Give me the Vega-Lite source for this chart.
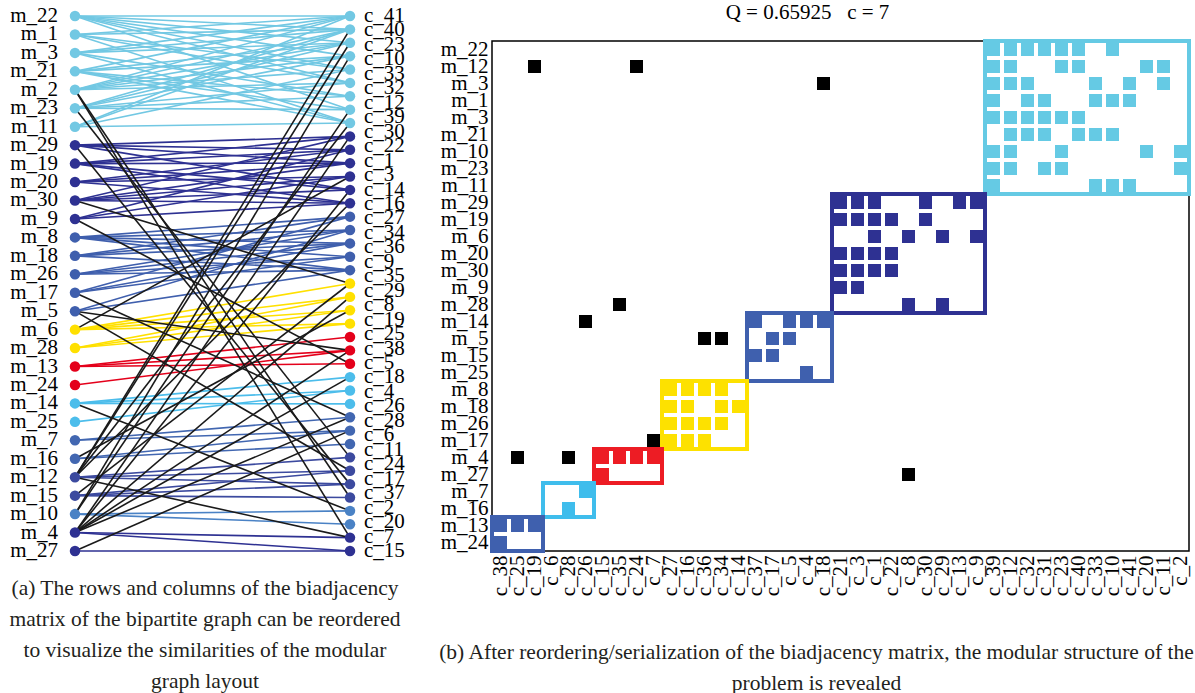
{
"$schema": "https://vega.github.io/schema/vega-lite/v6.json",
"padding": 0,
"background": "white",
"spacing": 27,
"config": {"view": {"stroke": null}, "font": "Liberation Serif"},
"resolve": {"scale": {"color": "independent"}},
"datasets": {
"mnodes": [{"i":0,"name":"m_22","g":"cy"},{"i":1,"name":"m_1","g":"cy"},{"i":2,"name":"m_3","g":"cy"},{"i":3,"name":"m_21","g":"cy"},{"i":4,"name":"m_2","g":"cy"},{"i":5,"name":"m_23","g":"cy"},{"i":6,"name":"m_11","g":"cy"},{"i":7,"name":"m_29","g":"nv"},{"i":8,"name":"m_19","g":"nv"},{"i":9,"name":"m_20","g":"nv"},{"i":10,"name":"m_30","g":"nv"},{"i":11,"name":"m_9","g":"nv"},{"i":12,"name":"m_8","g":"bl"},{"i":13,"name":"m_18","g":"bl"},{"i":14,"name":"m_26","g":"bl"},{"i":15,"name":"m_17","g":"bl"},{"i":16,"name":"m_5","g":"bl"},{"i":17,"name":"m_6","g":"ye"},{"i":18,"name":"m_28","g":"ye"},{"i":19,"name":"m_13","g":"rd"},{"i":20,"name":"m_24","g":"rd"},{"i":21,"name":"m_14","g":"lb"},{"i":22,"name":"m_25","g":"lb"},{"i":23,"name":"m_7","g":"b2"},{"i":24,"name":"m_16","g":"b2"},{"i":25,"name":"m_12","g":"in"},{"i":26,"name":"m_15","g":"in"},{"i":27,"name":"m_10","g":"b3"},{"i":28,"name":"m_4","g":"nv"},{"i":29,"name":"m_27","g":"nv"}],
"cnodes": [{"j":0,"g":"cy"},{"j":1,"g":"cy"},{"j":2,"g":"cy"},{"j":3,"g":"cy"},{"j":4,"g":"cy"},{"j":5,"g":"cy"},{"j":6,"g":"cy"},{"j":7,"g":"cy"},{"j":8,"g":"cy"},{"j":9,"g":"nv"},{"j":10,"g":"nv"},{"j":11,"g":"nv"},{"j":12,"g":"nv"},{"j":13,"g":"nv"},{"j":14,"g":"nv"},{"j":15,"g":"bl"},{"j":16,"g":"bl"},{"j":17,"g":"bl"},{"j":18,"g":"bl"},{"j":19,"g":"bl"},{"j":20,"g":"ye"},{"j":21,"g":"ye"},{"j":22,"g":"ye"},{"j":23,"g":"ye"},{"j":24,"g":"rd"},{"j":25,"g":"rd"},{"j":26,"g":"rd"},{"j":27,"g":"lb"},{"j":28,"g":"lb"},{"j":29,"g":"lb"},{"j":30,"g":"b2"},{"j":31,"g":"b2"},{"j":32,"g":"b2"},{"j":33,"g":"in"},{"j":34,"g":"in"},{"j":35,"g":"in"},{"j":36,"g":"in"},{"j":37,"g":"b3"},{"j":38,"g":"b3"},{"j":39,"g":"nv"},{"j":40,"g":"nv"}],
"clabels": [{"k":0,"name":"c_41"},{"k":1,"name":"c_40"},{"k":2,"name":"c_23"},{"k":3,"name":"c_10"},{"k":4,"name":"c_33"},{"k":5,"name":"c_32"},{"k":6,"name":"c_12"},{"k":7,"name":"c_39"},{"k":8,"name":"c_30"},{"k":9,"name":"c_22"},{"k":10,"name":"c_1"},{"k":11,"name":"c_3"},{"k":12,"name":"c_14"},{"k":13,"name":"c_16"},{"k":14,"name":"c_27"},{"k":15,"name":"c_34"},{"k":16,"name":"c_36"},{"k":17,"name":"c_9"},{"k":18,"name":"c_35"},{"k":19,"name":"c_29"},{"k":20,"name":"c_8"},{"k":21,"name":"c_19"},{"k":22,"name":"c_25"},{"k":23,"name":"c_38"},{"k":24,"name":"c_5"},{"k":25,"name":"c_18"},{"k":26,"name":"c_4"},{"k":27,"name":"c_26"},{"k":28,"name":"c_28"},{"k":29,"name":"c_6"},{"k":30,"name":"c_11"},{"k":31,"name":"c_24"},{"k":32,"name":"c_17"},{"k":33,"name":"c_37"},{"k":34,"name":"c_2"},{"k":35,"name":"c_20"},{"k":36,"name":"c_7"},{"k":37,"name":"c_15"}],
"edges": [
{"i":0,"j":0,"g":"cy"},{"i":0,"j":1,"g":"cy"},{"i":0,"j":2,"g":"cy"},{"i":0,"j":3,"g":"cy"},{"i":0,"j":4,"g":"cy"},{"i":0,"j":5,"g":"cy"},{"i":0,"j":7,"g":"cy"},
{"i":1,"j":0,"g":"cy"},{"i":1,"j":1,"g":"cy"},{"i":1,"j":4,"g":"cy"},{"i":1,"j":5,"g":"cy"},{"i":1,"j":8,"g":"cy"},
{"i":2,"j":0,"g":"cy"},{"i":2,"j":1,"g":"cy"},{"i":2,"j":2,"g":"cy"},{"i":2,"j":6,"g":"cy"},{"i":2,"j":8,"g":"cy"},
{"i":3,"j":0,"g":"cy"},{"i":3,"j":2,"g":"cy"},{"i":3,"j":3,"g":"cy"},{"i":3,"j":6,"g":"cy"},{"i":3,"j":7,"g":"cy"},{"i":3,"j":8,"g":"cy"},
{"i":4,"j":0,"g":"cy"},{"i":4,"j":1,"g":"cy"},{"i":4,"j":2,"g":"cy"},{"i":4,"j":3,"g":"cy"},{"i":4,"j":4,"g":"cy"},{"i":4,"j":5,"g":"cy"},
{"i":5,"j":1,"g":"cy"},{"i":5,"j":2,"g":"cy"},{"i":5,"j":3,"g":"cy"},{"i":5,"j":5,"g":"cy"},{"i":5,"j":6,"g":"cy"},{"i":5,"j":7,"g":"cy"},
{"i":6,"j":0,"g":"cy"},{"i":6,"j":1,"g":"cy"},{"i":6,"j":4,"g":"cy"},{"i":6,"j":8,"g":"cy"},
{"i":7,"j":9,"g":"nv"},{"i":7,"j":10,"g":"nv"},{"i":7,"j":11,"g":"nv"},{"i":7,"j":13,"g":"nv"},
{"i":8,"j":9,"g":"nv"},{"i":8,"j":10,"g":"nv"},{"i":8,"j":11,"g":"nv"},{"i":8,"j":13,"g":"nv"},{"i":8,"j":14,"g":"nv"},
{"i":9,"j":10,"g":"nv"},{"i":9,"j":11,"g":"nv"},{"i":9,"j":12,"g":"nv"},{"i":9,"j":14,"g":"nv"},
{"i":10,"j":9,"g":"nv"},{"i":10,"j":11,"g":"nv"},{"i":10,"j":12,"g":"nv"},{"i":10,"j":13,"g":"nv"},{"i":10,"j":14,"g":"nv"},
{"i":11,"j":10,"g":"nv"},{"i":11,"j":12,"g":"nv"},{"i":11,"j":14,"g":"nv"},
{"i":12,"j":15,"g":"bl"},{"i":12,"j":16,"g":"bl"},{"i":12,"j":17,"g":"bl"},{"i":12,"j":18,"g":"bl"},{"i":12,"j":19,"g":"bl"},
{"i":13,"j":15,"g":"bl"},{"i":13,"j":16,"g":"bl"},{"i":13,"j":17,"g":"bl"},{"i":13,"j":19,"g":"bl"},
{"i":14,"j":16,"g":"bl"},{"i":14,"j":17,"g":"bl"},{"i":14,"j":18,"g":"bl"},{"i":14,"j":19,"g":"bl"},
{"i":15,"j":15,"g":"bl"},{"i":15,"j":17,"g":"bl"},{"i":15,"j":18,"g":"bl"},
{"i":16,"j":16,"g":"bl"},{"i":16,"j":19,"g":"bl"},
{"i":17,"j":20,"g":"ye"},{"i":17,"j":21,"g":"ye"},{"i":17,"j":22,"g":"ye"},{"i":17,"j":23,"g":"ye"},
{"i":18,"j":21,"g":"ye"},{"i":18,"j":22,"g":"ye"},{"i":18,"j":23,"g":"ye"},
{"i":19,"j":24,"g":"rd"},{"i":19,"j":25,"g":"rd"},{"i":19,"j":26,"g":"rd"},
{"i":20,"j":25,"g":"rd"},
{"i":21,"j":27,"g":"lb"},{"i":21,"j":28,"g":"lb"},{"i":21,"j":29,"g":"lb"},
{"i":22,"j":28,"g":"lb"},
{"i":23,"j":30,"g":"b2"},{"i":23,"j":31,"g":"b2"},
{"i":24,"j":31,"g":"b2"},{"i":24,"j":32,"g":"b2"},
{"i":25,"j":33,"g":"in"},{"i":25,"j":34,"g":"in"},{"i":25,"j":35,"g":"in"},
{"i":26,"j":34,"g":"in"},{"i":26,"j":35,"g":"in"},{"i":26,"j":36,"g":"in"},
{"i":27,"j":37,"g":"b3"},{"i":27,"j":38,"g":"b3"},
{"i":28,"j":39,"g":"nv"},{"i":28,"j":40,"g":"nv"},
{"i":29,"j":40,"g":"nv"},
{"i":4,"j":36,"g":"k"},{"i":4,"j":39,"g":"k"},{"i":5,"j":33,"g":"k"},{"i":7,"j":35,"g":"k"},{"i":10,"j":20,"g":"k"},{"i":11,"j":26,"g":"k"},
{"i":15,"j":30,"g":"k"},{"i":16,"j":25,"g":"k"},{"i":16,"j":34,"g":"k"},{"i":17,"j":12,"g":"k"},{"i":21,"j":37,"g":"k"},
{"i":24,"j":22,"g":"k"},{"i":25,"j":1,"g":"k"},{"i":25,"j":2,"g":"k"},{"i":25,"j":8,"g":"k"},{"i":25,"j":14,"g":"k"},{"i":25,"j":39,"g":"k"},
{"i":26,"j":20,"g":"k"},{"i":27,"j":3,"g":"k"},{"i":27,"j":7,"g":"k"},
{"i":28,"j":9,"g":"k"},{"i":28,"j":13,"g":"k"},{"i":28,"j":21,"g":"k"},{"i":28,"j":25,"g":"k"},{"i":28,"j":27,"g":"k"},{"i":28,"j":30,"g":"k"},
{"i":29,"j":31,"g":"k"}
],
"blocks": [{"c0":29,"c1":40,"r0":0,"r1":8,"g":"mc"},{"c0":20,"c1":28,"r0":9,"r1":15,"g":"mn"},{"c0":15,"c1":19,"r0":16,"r1":19,"g":"mb"},{"c0":10,"c1":14,"r0":20,"r1":23,"g":"my"},{"c0":6,"c1":9,"r0":24,"r1":25,"g":"mr"},{"c0":3,"c1":5,"r0":26,"r1":27,"g":"ml"},{"c0":0,"c1":2,"r0":28,"r1":29,"g":"mb"}],
"cells": [
{"r":0,"c":29,"g":"mc"},{"r":0,"c":30,"g":"mc"},{"r":0,"c":31,"g":"mc"},{"r":0,"c":32,"g":"mc"},{"r":0,"c":33,"g":"mc"},{"r":0,"c":34,"g":"mc"},{"r":0,"c":36,"g":"mc"},
{"r":1,"c":29,"g":"mc"},{"r":1,"c":30,"g":"mc"},{"r":1,"c":33,"g":"mc"},{"r":1,"c":34,"g":"mc"},{"r":1,"c":38,"g":"mc"},{"r":1,"c":39,"g":"mc"},
{"r":2,"c":29,"g":"mc"},{"r":2,"c":30,"g":"mc"},{"r":2,"c":31,"g":"mc"},{"r":2,"c":35,"g":"mc"},{"r":2,"c":37,"g":"mc"},{"r":2,"c":39,"g":"mc"},
{"r":3,"c":29,"g":"mc"},{"r":3,"c":31,"g":"mc"},{"r":3,"c":32,"g":"mc"},{"r":3,"c":35,"g":"mc"},{"r":3,"c":36,"g":"mc"},{"r":3,"c":37,"g":"mc"},
{"r":4,"c":29,"g":"mc"},{"r":4,"c":30,"g":"mc"},{"r":4,"c":31,"g":"mc"},{"r":4,"c":32,"g":"mc"},{"r":4,"c":33,"g":"mc"},{"r":4,"c":34,"g":"mc"},
{"r":5,"c":30,"g":"mc"},{"r":5,"c":31,"g":"mc"},{"r":5,"c":32,"g":"mc"},{"r":5,"c":34,"g":"mc"},{"r":5,"c":35,"g":"mc"},{"r":5,"c":36,"g":"mc"},
{"r":6,"c":29,"g":"mc"},{"r":6,"c":30,"g":"mc"},{"r":6,"c":33,"g":"mc"},{"r":6,"c":38,"g":"mc"},{"r":6,"c":40,"g":"mc"},
{"r":7,"c":29,"g":"mc"},{"r":7,"c":30,"g":"mc"},{"r":7,"c":32,"g":"mc"},{"r":7,"c":33,"g":"mc"},{"r":7,"c":40,"g":"mc"},
{"r":8,"c":29,"g":"mc"},{"r":8,"c":35,"g":"mc"},{"r":8,"c":36,"g":"mc"},{"r":8,"c":37,"g":"mc"},
{"r":9,"c":20,"g":"mn"},{"r":9,"c":21,"g":"mn"},{"r":9,"c":22,"g":"mn"},{"r":9,"c":25,"g":"mn"},{"r":9,"c":27,"g":"mn"},{"r":9,"c":28,"g":"mn"},
{"r":10,"c":20,"g":"mn"},{"r":10,"c":21,"g":"mn"},{"r":10,"c":22,"g":"mn"},{"r":10,"c":23,"g":"mn"},{"r":10,"c":25,"g":"mn"},
{"r":11,"c":22,"g":"mn"},{"r":11,"c":24,"g":"mn"},{"r":11,"c":26,"g":"mn"},{"r":11,"c":28,"g":"mn"},
{"r":12,"c":20,"g":"mn"},{"r":12,"c":21,"g":"mn"},{"r":12,"c":22,"g":"mn"},{"r":12,"c":23,"g":"mn"},
{"r":13,"c":20,"g":"mn"},{"r":13,"c":21,"g":"mn"},{"r":13,"c":22,"g":"mn"},{"r":13,"c":23,"g":"mn"},
{"r":14,"c":20,"g":"mn"},{"r":14,"c":21,"g":"mn"},
{"r":15,"c":24,"g":"mn"},{"r":15,"c":26,"g":"mn"},
{"r":16,"c":15,"g":"mb"},{"r":16,"c":17,"g":"mb"},{"r":16,"c":18,"g":"mb"},{"r":16,"c":19,"g":"mb"},
{"r":17,"c":16,"g":"mb"},{"r":17,"c":17,"g":"mb"},
{"r":18,"c":15,"g":"mb"},{"r":18,"c":16,"g":"mb"},
{"r":19,"c":18,"g":"mb"},
{"r":20,"c":10,"g":"my"},{"r":20,"c":11,"g":"my"},{"r":20,"c":12,"g":"my"},{"r":20,"c":13,"g":"my"},
{"r":21,"c":10,"g":"my"},{"r":21,"c":11,"g":"my"},{"r":21,"c":13,"g":"my"},{"r":21,"c":14,"g":"my"},
{"r":22,"c":10,"g":"my"},{"r":22,"c":11,"g":"my"},{"r":22,"c":12,"g":"my"},{"r":22,"c":13,"g":"my"},
{"r":23,"c":10,"g":"my"},{"r":23,"c":11,"g":"my"},{"r":23,"c":12,"g":"my"},
{"r":24,"c":6,"g":"mr"},{"r":24,"c":7,"g":"mr"},{"r":24,"c":8,"g":"mr"},{"r":24,"c":9,"g":"mr"},
{"r":25,"c":6,"g":"mr"},
{"r":26,"c":5,"g":"ml"},{"r":27,"c":4,"g":"ml"},
{"r":28,"c":0,"g":"mb"},{"r":28,"c":1,"g":"mb"},{"r":28,"c":2,"g":"mb"},
{"r":29,"c":0,"g":"mb"},
{"r":1,"c":2,"g":"k"},{"r":1,"c":8,"g":"k"},{"r":2,"c":19,"g":"k"},{"r":15,"c":7,"g":"k"},{"r":16,"c":5,"g":"k"},{"r":17,"c":12,"g":"k"},{"r":17,"c":13,"g":"k"},{"r":23,"c":9,"g":"k"},{"r":24,"c":1,"g":"k"},{"r":24,"c":4,"g":"k"},{"r":25,"c":24,"g":"k"}
]
},
"hconcat": [
{
"width": 410, "height": 520,
"title": {"text": ["(a) The rows and columns of the biadjacency", "matrix of the bipartite graph can be reordered", "to visualize the similarities of the modular", "graph layout"], "orient": "bottom", "anchor": "middle", "font": "Liberation Serif", "fontSize": 21.5, "fontWeight": "normal", "color": "#231F20", "lineHeight": 31, "offset": 17},
"layer": [
{"data": {"name": "edges"}, "transform": [{"filter": "datum.g != 'k'"}, {"calculate": "datum.i/29", "as": "yl"}, {"calculate": "datum.j/40", "as": "yr"}],
 "mark": {"type": "rule", "strokeWidth": 1.6},
 "encoding": {
  "x": {"datum": 0, "type": "quantitative", "scale": {"domain": [-0.2727, 1.2182], "nice": false, "zero": false}, "axis": null},
  "x2": {"datum": 1},
  "y": {"field": "yl", "type": "quantitative", "scale": {"domain": [0.0467, 1.0187], "reverse": true, "nice": false, "zero": false}, "axis": null},
  "y2": {"field": "yr"},
  "color": {"field": "g", "type": "nominal", "legend": null, "scale": {"domain": ["cy","nv","bl","ye","rd","lb","b2","in","b3","k"], "range": ["#72C8E3","#2E3192","#3F5FAD","#FFE000","#E4001B","#4CBDEB","#4267B1","#3C4A9F","#4A82C5","#1A1A1A"]}}
 }},
{"data": {"name": "edges"}, "transform": [{"filter": "datum.g == 'k'"}, {"calculate": "datum.i/29", "as": "yl"}, {"calculate": "datum.j/40", "as": "yr"}],
 "mark": {"type": "rule", "strokeWidth": 1.6},
 "encoding": {
  "x": {"datum": 0, "type": "quantitative", "axis": null},
  "x2": {"datum": 1},
  "y": {"field": "yl", "type": "quantitative", "axis": null},
  "y2": {"field": "yr"},
  "color": {"field": "g", "type": "nominal", "legend": null}
 }},
{"data": {"name": "mnodes"}, "transform": [{"calculate": "datum.i/29", "as": "yl"}],
 "mark": {"type": "circle", "size": 110, "opacity": 1},
 "encoding": {
  "x": {"datum": 0, "type": "quantitative", "axis": null},
  "y": {"field": "yl", "type": "quantitative", "axis": null},
  "color": {"field": "g", "type": "nominal", "legend": null}
 }},
{"data": {"name": "cnodes"}, "transform": [{"calculate": "datum.j/40", "as": "yr"}],
 "mark": {"type": "circle", "size": 110, "opacity": 1},
 "encoding": {
  "x": {"datum": 1, "type": "quantitative", "axis": null},
  "y": {"field": "yr", "type": "quantitative", "axis": null},
  "color": {"field": "g", "type": "nominal", "legend": null}
 }},
{"data": {"name": "mnodes"}, "transform": [{"calculate": "datum.i/29", "as": "yl"}],
 "mark": {"type": "text", "align": "right", "baseline": "middle", "dx": -17, "fontSize": 21, "font": "Liberation Serif", "color": "#000"},
 "encoding": {
  "x": {"datum": 0, "type": "quantitative", "axis": null},
  "y": {"field": "yl", "type": "quantitative", "axis": null},
  "text": {"field": "name"}
 }},
{"data": {"name": "clabels"}, "transform": [{"calculate": "datum.k/37", "as": "yk"}],
 "mark": {"type": "text", "align": "left", "baseline": "middle", "dx": 14, "fontSize": 21, "font": "Liberation Serif", "color": "#000"},
 "encoding": {
  "x": {"datum": 1, "type": "quantitative", "axis": null},
  "y": {"field": "yk", "type": "quantitative", "axis": null},
  "text": {"field": "name"}
 }}
]
},
{
"width": 697, "height": 510,
"view": {"stroke": "#000000", "strokeWidth": 1.5},
"title": {"text": "Q\u00a0=\u00a00.65925\u00a0\u00a0\u00a0c\u00a0=\u00a07", "font": "Liberation Serif", "fontSize": 21, "fontWeight": "normal", "color": "#000", "offset": 16, "anchor": "middle", "frame": "group", "dx": -33},
"encoding": {
  "x": {"field": "c", "type": "quantitative", "scale": {"domain": [-0.5, 40.5], "nice": false, "zero": false},
   "axis": {"values": [0,1,2,3,4,5,6,7,8,9,10,11,12,13,14,15,16,17,18,19,20,21,22,23,24,25,26,27,28,29,30,31,32,33,34,35,36,37,38,39,40],
    "labelExpr": "['c_38','c_25','c_19','c_6','c_28','c_26','c_15','c_35','c_24','c_7','c_27','c_16','c_36','c_34','c_14','c_37','c_17','c_5','c_4','c_18','c_21','c_3','c_1','c_22','c_8','c_30','c_29','c_13','c_9','c_39','c_12','c_32','c_31','c_23','c_40','c_33','c_10','c_41','c_20','c_11','c_2'][datum.value]",
    "labelAngle": 270, "labelFont": "Liberation Serif", "labelFontSize": 21, "labelColor": "#000", "labelPadding": 4, "labelOverlap": false, "labelFlush": false, "labelBound": false,
    "ticks": false, "domain": false, "grid": false,
    "title": ["(b) After reordering/serialization of the biadjacency matrix, the modular structure of the", "problem is revealed"],
    "titleFont": "Liberation Serif", "titleFontSize": 21.5, "titleFontWeight": "normal", "titleColor": "#231F20", "titleLineHeight": 31, "titlePadding": 46, "titleX": 324, "titleAlign": "center"}},
  "y": {"field": "r", "type": "quantitative", "scale": {"domain": [-0.5, 29.5], "reverse": true, "nice": false, "zero": false},
   "axis": {"values": [0,1,2,3,4,5,6,7,8,9,10,11,12,13,14,15,16,17,18,19,20,21,22,23,24,25,26,27,28,29],
    "labelExpr": "['m_22','m_12','m_3','m_1','m_3','m_21','m_10','m_23','m_11','m_29','m_19','m_6','m_20','m_30','m_9','m_28','m_14','m_5','m_15','m_25','m_8','m_18','m_26','m_17','m_4','m_27','m_7','m_16','m_13','m_24'][datum.value]",
    "labelFont": "Liberation Serif", "labelFontSize": 21, "labelColor": "#000", "labelPadding": 4, "labelOverlap": false, "labelFlush": false, "labelBound": false,
    "ticks": false, "domain": false, "grid": false, "title": null}}
},
"layer": [
{"data": {"name": "blocks"}, "transform": [{"calculate": "datum.c0 - 0.5", "as": "c"}, {"calculate": "datum.c1 + 0.5", "as": "cc"}, {"calculate": "datum.r0 - 0.5", "as": "r"}, {"calculate": "datum.r1 + 0.5", "as": "rr"}],
 "mark": {"type": "rect", "filled": false, "strokeWidth": 4},
 "encoding": {
  "x2": {"field": "cc"},
  "y2": {"field": "rr"},
  "color": {"field": "g", "type": "nominal", "legend": null, "scale": {"domain": ["mc","mn","mb","my","mr","ml","k"], "range": ["#65CAE4","#2E3192","#3F60AE","#FDE100","#ED1C24","#3FBDEC","#000000"]}}
 }},
{"data": {"name": "cells"},
 "mark": {"type": "square", "size": 169, "opacity": 1, "filled": true},
 "encoding": {
  "color": {"field": "g", "type": "nominal", "legend": null}
 }}
]
}
]
}
